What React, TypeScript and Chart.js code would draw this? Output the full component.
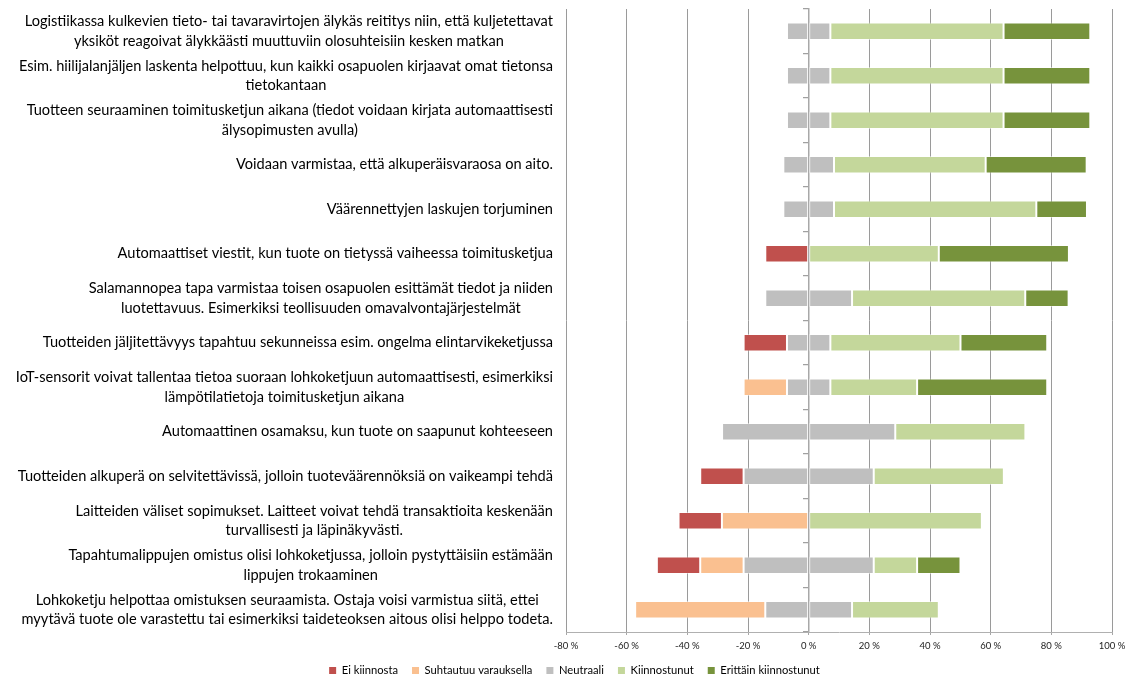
import { useEffect, useRef } from "react";
import { Chart, registerables } from "chart.js";

Chart.register(...registerables);

// ---------- data ----------
const categories: string[][] = [
  ["Logistiikassa kulkevien tieto- tai tavaravirtojen älykäs reititys niin, että kuljetettavat", "yksiköt reagoivat älykkäästi muuttuviin olosuhteisiin kesken matkan"],
  ["Esim. hiilijalanjäljen laskenta helpottuu, kun kaikki osapuolen kirjaavat omat tietonsa", "tietokantaan"],
  ["Tuotteen seuraaminen toimitusketjun aikana (tiedot voidaan kirjata automaattisesti", "älysopimusten avulla)"],
  ["Voidaan varmistaa, että alkuperäisvaraosa on aito."],
  ["Väärennettyjen laskujen torjuminen"],
  ["Automaattiset viestit, kun tuote on tietyssä vaiheessa toimitusketjua"],
  ["Salamannopea tapa varmistaa toisen osapuolen esittämät tiedot ja niiden", "luotettavuus. Esimerkiksi teollisuuden omavalvontajärjestelmät"],
  ["Tuotteiden jäljitettävyys tapahtuu sekunneissa esim. ongelma elintarvikeketjussa"],
  ["IoT-sensorit voivat tallentaa tietoa suoraan lohkoketjuun automaattisesti, esimerkiksi", "lämpötilatietoja toimitusketjun aikana"],
  ["Automaattinen osamaksu, kun tuote on saapunut kohteeseen"],
  ["Tuotteiden alkuperä on selvitettävissä, jolloin tuoteväärennöksiä on vaikeampi tehdä"],
  ["Laitteiden väliset sopimukset. Laitteet voivat tehdä transaktioita keskenään", "turvallisesti ja läpinäkyvästi."],
  ["Tapahtumalippujen omistus olisi lohkoketjussa, jolloin pystyttäisiin estämään", "lippujen trokaaminen"],
  ["Lohkoketju helpottaa omistuksen seuraamista. Ostaja voisi varmistua siitä, ettei", "myytävä tuote ole varastettu tai esimerkiksi taideteoksen aitous olisi helppo todeta."],
];

// percentages of respondents
const eiKiinnosta = [0, 0, 0, 0, 0, 14.3, 0, 14.3, 0, 0, 14.3, 14.3, 14.3, 0];
const suhtautuuVarauksella = [0, 0, 0, 0, 0, 0, 0, 0, 14.3, 0, 0, 28.6, 14.3, 42.9];
const neutraali = [14.3, 14.3, 14.3, 16.7, 16.7, 0, 28.6, 14.3, 14.3, 57.1, 42.9, 0, 42.9, 28.6];
const kiinnostunut = [57.1, 57.1, 57.1, 50, 66.7, 42.9, 57.1, 42.9, 28.6, 42.9, 42.9, 57.1, 14.3, 28.6];
const erittainKiinnostunut = [28.6, 28.6, 28.6, 33.3, 16.7, 42.9, 14.3, 28.6, 42.9, 0, 0, 0, 14.3, 0];

const seriesNames = ["Ei kiinnosta", "Suhtautuu varauksella", "Neutraali", "Kiinnostunut", "Erittäin kiinnostunut"];

const xTickMin = -80;
const xTickMax = 100;
const xTickStep = 20;

// ---------- styles ----------
const COLORS = {
  ei: "#C0504D",
  suht: "#FAC090",
  neut: "#BFBFBF",
  kiin: "#C4D79B",
  erit: "#77933C",
};
const FONT = "Lato, 'Open Sans', sans-serif";
const LABEL_SIZE = 14.6;
const LABEL_LINE = 19.5;

export default function App() {
  const ref = useRef<HTMLCanvasElement>(null);

  useEffect(() => {
    if (!ref.current) return;
    const neg = (a: number[]) => a.map((v) => (v ? -v : null));
    const pos = (a: number[]) => a.map((v) => (v ? v : null));
    const halfNeg = (a: number[]) => a.map((v) => (v ? -v / 2 : null));
    const halfPos = (a: number[]) => a.map((v) => (v ? v / 2 : null));

    const common = {
      borderWidth: 1,
      borderColor: "rgba(255,255,255,0.45)",
      borderSkipped: false as const,
      barPercentage: 0.39,
      categoryPercentage: 1,
      yAxisID: "y",
    };

    const rank: Record<number, number> = { 2: 0, 1: 1, 3: 2, 4: 3, 5: 4 };

    const labelPlugin = {
      id: "wrappedCategoryLabels",
      afterDraw(chart: any) {
        const ctx = chart.ctx as CanvasRenderingContext2D;
        const ys = chart.scales.y;
        const right = chart.chartArea.left - 13;
        ctx.save();
        ctx.font = `${LABEL_SIZE}px ${FONT}`;
        ctx.fillStyle = "#000";
        ctx.textAlign = "center";
        ctx.textBaseline = "middle";
        (chart.data.labels as string[][]).forEach((lines, i) => {
          const cy = ys.getPixelForValue(i);
          const widest = Math.max(...lines.map((l) => ctx.measureText(l).width));
          const cx = right - widest / 2;
          lines.forEach((l, j) => {
            ctx.fillText(l, cx, cy + (j - (lines.length - 1) / 2) * LABEL_LINE);
          });
        });
        ctx.restore();
      },
    };

    const chart = new Chart(ref.current, {
      type: "bar",
      data: {
        labels: categories,
        datasets: [
          { ...common, label: seriesNames[2] + " ", data: halfNeg(neutraali), backgroundColor: COLORS.neut },
          { ...common, label: seriesNames[1], data: neg(suhtautuuVarauksella), backgroundColor: COLORS.suht },
          { ...common, label: seriesNames[0], data: neg(eiKiinnosta), backgroundColor: COLORS.ei },
          { ...common, label: seriesNames[2], data: halfPos(neutraali), backgroundColor: COLORS.neut },
          { ...common, label: seriesNames[3], data: pos(kiinnostunut), backgroundColor: COLORS.kiin },
          { ...common, label: seriesNames[4], data: pos(erittainKiinnostunut), backgroundColor: COLORS.erit },
        ],
      },
      options: {
        indexAxis: "y",
        animation: false,
        responsive: true,
        maintainAspectRatio: false,
        layout: { padding: { left: 37, right: 23, top: 9, bottom: -9.2 } },
        plugins: {
          tooltip: { enabled: false },
          legend: {
            position: "bottom",
            labels: {
              boxWidth: 7,
              boxHeight: 7,
              padding: 14,
              color: "#000",
              font: { family: FONT, size: 11.2 },
              filter: (item: any) => item.datasetIndex !== 0,
              sort: (a: any, b: any) => rank[a.datasetIndex] - rank[b.datasetIndex],
              generateLabels: (ch: any) =>
                ch.data.datasets.map((ds: any, i: number) => ({
                  text: ds.label,
                  fillStyle: ds.backgroundColor,
                  strokeStyle: ds.backgroundColor,
                  lineWidth: 0,
                  hidden: false,
                  datasetIndex: i,
                  fontColor: "#000",
                })),
            },
          },
        },
        scales: {
          x: {
            type: "linear",
            stacked: true,
            min: xTickMin,
            max: xTickMax,
            afterFit: (s: any) => {
              s.height = 19;
            },
            ticks: {
              stepSize: xTickStep,
              padding: 5,
              color: "#222",
              font: { family: FONT, size: 9.5 },
              callback: (v: any) => `${v} %`,
            },
            grid: {
              color: "#9A9A9A",
              lineWidth: 1,
              tickLength: 3,
              tickColor: "#A6A6A6",
            },
            border: { display: true, color: "#B0B0B0", width: 1 },
          },
          y: {
            type: "category",
            stacked: true,
            offset: true,
            position: "left",
            afterFit: (s: any) => {
              s.width = 529;
            },
            ticks: { display: false },
            grid: { display: false, offset: true },
            border: { display: false },
          },
          y2: {
            type: "category",
            position: { x: 0 } as any,
            z: 1,
            offset: true,
            ticks: { display: false },
            grid: {
              offset: true,
              drawOnChartArea: false,
              drawTicks: true,
              tickLength: 5,
              color: "#A0A0A0",
              lineWidth: 1.25,
            },
            border: { display: true, color: "#A8A8A8", width: 1.5 },
          },
        },
      } as any,
      plugins: [labelPlugin],
    });
    return () => chart.destroy();
  }, []);

  return (
    <div style={{ position: "absolute", left: 0, top: 0, width: 1135, height: 677 }}>
      <canvas ref={ref} />
    </div>
  );
}
